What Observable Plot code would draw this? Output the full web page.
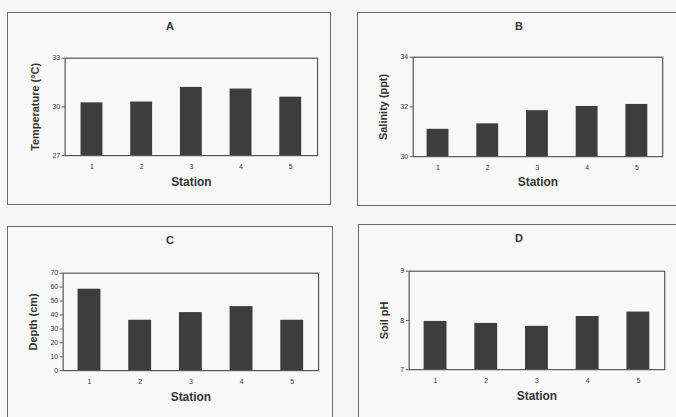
<!DOCTYPE html>
<html>
<head>
<meta charset="utf-8">
<script src="https://cdn.jsdelivr.net/npm/d3@7"></script>
<script src="https://cdn.jsdelivr.net/npm/@observablehq/plot@0.6"></script>
<style>
  html, body { margin: 0; padding: 0; background: #f6f6f6; overflow: hidden; }
  #root { position: relative; width: 676px; height: 417px; overflow: hidden; font-family: "Liberation Sans", Arial, sans-serif; }
  .frame { position: absolute; box-sizing: border-box; border: 1px solid #6a6a6a; background: #f8f8f8; }
  .frame svg { position: absolute; left: -1px; top: -1px; overflow: visible; }
  .ptitle { position: absolute; font-weight: bold; font-size: 11px; color: #333; transform: translate(-50%, -50%); }
</style>
</head>
<body>
<div id="root"></div>
<script>
// ---- data ----
const stations = [1, 2, 3, 4, 5];
const temperature = [30.25, 30.3, 31.2, 31.1, 30.6];
const salinity = [31.1, 31.32, 31.85, 32.02, 32.1];
const depth = [58.5, 36.2, 41.7, 46, 36.2];
const soilPH = [7.98, 7.94, 7.88, 8.08, 8.17];

const panelTitles = ["A", "B", "C", "D"];
const yLabels = ["Temperature (°C)", "Salinity (ppt)", "Depth (cm)", "Soil pH"];
const xLabel = "Station";
const tempTicks = [27, 30, 33];
const salTicks = [30, 32, 34];
const depthTicks = [0, 10, 20, 30, 40, 50, 60, 70];
const phTicks = [7, 8, 9];

// ---- layout (page pixels) ----
const layout = [
  {frame: [7, 12, 331, 205],  plot: [65, 58, 319, 156],  titleX: 170, titleY: 26,  ylabX: 35,  statY: 183, values: temperature, ticks: tempTicks},
  {frame: [357, 12, 700, 206], plot: [413, 57, 664, 157], titleX: 519, titleY: 26,  ylabX: 383, statY: 183, values: salinity, ticks: salTicks},
  {frame: [7, 226, 333, 440],  plot: [63, 273, 320, 371], titleX: 170, titleY: 240, ylabX: 33,  statY: 398, values: depth, ticks: depthTicks},
  {frame: [358, 224, 700, 440], plot: [409, 271, 666, 370], titleX: 519, titleY: 238, ylabX: 384, statY: 397, values: soilPH, ticks: phTicks}
];

const root = document.getElementById("root");
const font = "'Liberation Sans', Arial, sans-serif";

layout.forEach((p, i) => {
  const [fl, ft, fr, fb] = p.frame;
  const [pl, pt, pr, pb] = p.plot;
  const div = document.createElement("div");
  div.className = "frame";
  div.style.left = fl + "px";
  div.style.top = ft + "px";
  div.style.width = (fr - fl) + "px";
  div.style.height = (fb - ft) + "px";
  root.appendChild(div);

  const ymin = p.ticks[0], ymax = p.ticks[p.ticks.length - 1];
  const rows = stations.map((s, k) => ({station: s, value: p.values[k]}));
  const W = fr - fl, H = fb - ft;

  const chart = Plot.plot({
    width: W,
    height: H,
    marginLeft: pl - fl,
    marginRight: fr - pr,
    marginTop: pt - ft,
    marginBottom: fb - pb,
    style: {fontFamily: font, background: "transparent", color: "#333", overflow: "visible"},
    x: {type: "band", domain: stations, paddingInner: 0.55, paddingOuter: 0.27, label: null},
    y: {domain: [ymin, ymax], label: null},
    marks: [
      Plot.barY(rows, {x: "station", y1: ymin, y2: "value", fill: "#3d3d3d"}),
      Plot.frame({stroke: "#555", strokeWidth: 1.2}),
      Plot.axisY({ticks: p.ticks, tickFormat: d3.format("d"), tickSize: 3, tickPadding: 2, fontSize: 7, label: null, stroke: "#555"}),
      Plot.axisX({tickSize: 0, tickPadding: 8, fontSize: 7, label: null}),
      Plot.text([yLabels[i]], {
        frameAnchor: "left", rotate: -90, dx: -(pl - p.ylabX),
        fontSize: 11, fontWeight: "bold", fill: "#333", textAnchor: "middle", lineAnchor: "middle"
      }),
      Plot.text([xLabel], {
        frameAnchor: "bottom", dy: p.statY - pb,
        fontSize: 12, fontWeight: "bold", fill: "#333", textAnchor: "middle", lineAnchor: "middle"
      })
    ]
  });
  div.appendChild(chart);

  const t = document.createElement("div");
  t.className = "ptitle";
  t.textContent = panelTitles[i];
  t.style.left = p.titleX + "px";
  t.style.top = p.titleY + "px";
  root.appendChild(t);
});
</script>
</body>
</html>
